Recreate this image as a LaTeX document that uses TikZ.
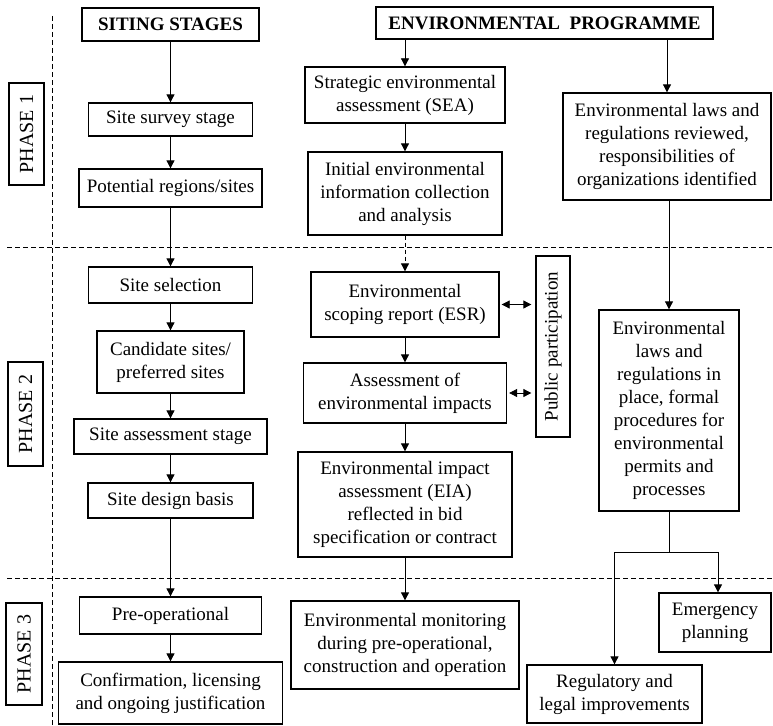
\documentclass[tikz,border=0pt]{standalone}
\usepackage{fontspec}
\setmainfont{Liberation Serif}
\usetikzlibrary{arrows.meta}
\begin{document}
\begin{tikzpicture}[x=1pt,y=-1pt,
  box/.style={draw, line width=1.3pt, align=center, inner sep=0pt,
    font=\fontsize{19}{23}\selectfont},
  head/.style={box, font=\fontsize{19}{23}\selectfont\bfseries},
  phase/.style={box, font=\fontsize{20}{23}\selectfont},
  sz/.style 2 args={minimum width=#1pt, minimum height=#2pt},
  tip/.tip={Triangle[length=8pt,width=8pt]},
  flow/.style={-tip, line width=0.8pt},
  twoway/.style={tip-tip, line width=0.8pt, shorten <=2pt, shorten >=4pt},
  sep/.style={dash pattern=on 5pt off 3pt, line width=0.7pt}
]
\useasboundingbox (0,0) rectangle (773,725);

% phase separators
\draw[sep] (52,16) -- (52,725);
\draw[sep] (7,247) -- (773,247);
\draw[sep] (7,578) -- (773,578);

% headings
\node[head, sz={177}{33}] (siting) at (170.5,24.5) {SITING STAGES};
\node[head, sz={337}{32}] (envprog) at (544.5,23) {ENVIRONMENTAL\ \ PROGRAMME};

% phase labels
\node[phase, sz={35}{102}] (phase1) at (26.5,134) {\rotatebox{90}{PHASE 1}};
\node[phase, sz={35}{104}] (phase2) at (25.5,414) {\rotatebox{90}{PHASE 2}};
\node[phase, sz={36}{102}] (phase3) at (24,654) {\rotatebox{90}{PHASE 3}};

% siting stages column
\node[box, sz={164}{33}] (survey) at (170.5,119.5) {Site survey stage};
\node[box, sz={183}{38}] (potential) at (170.5,188) {Potential regions/sites};
\node[box, sz={164}{36}] (selection) at (170.5,285) {Site selection};
\node[box, sz={147}{62}] (candidate) at (170.5,362) {Candidate sites/\\preferred sites};
\node[box, sz={193}{35}] (assessstage) at (170.5,436.5) {Site assessment stage};
\node[box, sz={165}{35}] (design) at (170.5,500.5) {Site design basis};
\node[box, sz={182}{37}] (preop) at (170.5,615.5) {Pre-operational};
\node[box, sz={224}{62}] (confirm) at (170.5,693) {Confirmation, licensing\\and ongoing justification};

% environmental programme column
\node[box, sz={200}{56}] (sea) at (405,95) {Strategic environmental\\assessment (SEA)};
\node[box, sz={194}{83}] (initial) at (405,193.5) {Initial environmental\\information collection\\and analysis};
\node[box, sz={188}{65}] (esr) at (405,304.5) {Environmental\\scoping report (ESR)};
\node[box, sz={203}{60}] (assessimp) at (405,393) {Assessment of\\environmental impacts};
\node[box, sz={214}{105}] (eia) at (405,504.5) {Environmental impact\\assessment (EIA)\\reflected in bid\\specification or contract};
\node[box, sz={228}{88}] (monitor) at (405,645) {Environmental monitoring\\during pre-operational,\\construction and operation};
\node[box, sz={34}{181}] (public) at (553,346.5) {\rotatebox{90}{Public participation}};

% legal framework column
\node[box, sz={208}{107}] (laws) at (667,146.5) {Environmental laws and\\regulations reviewed,\\responsibilities of\\organizations identified};
\node[box, sz={140}{201}] (lawsplace) at (669,410.5) {Environmental\\laws and\\regulations in\\place, formal\\procedures for\\environmental\\permits and\\processes};
\node[box, sz={112}{59}] (emergency) at (715,622.5) {Emergency\\planning};
\node[box, sz={175}{58}] (regulatory) at (614.5,694) {Regulatory and\\legal improvements};

% siting stage flow
\draw[flow] (siting) -- (survey);
\draw[flow] (survey) -- (potential);
\draw[flow] (potential) -- (selection);
\draw[flow] (selection) -- (candidate);
\draw[flow] (candidate) -- (assessstage);
\draw[flow] (assessstage) -- (design);
\draw[flow] (design) -- (preop);
\draw[flow] (preop) -- (confirm);

% environmental programme flow
\draw[flow] (sea.north |- envprog.south) -- (sea.north);
\draw[flow] (sea) -- (initial);
\draw[flow, dash pattern=on 4pt off 3pt] (initial) -- (esr);
\draw[flow] (esr) -- (assessimp);
\draw[flow] (assessimp) -- (eia);
\draw[flow] (eia) -- (monitor);
\draw[twoway] (esr.east) -- (esr.east -| public.west);
\draw[twoway] (assessimp.east) -- (assessimp.east -| public.west);

% legal framework flow
\draw[flow] (laws.north |- envprog.south) -- (laws.north);
\draw[flow] (laws.south -| lawsplace.north) -- (lawsplace.north);
\coordinate (split) at (669,552);
\draw[line width=0.8pt] (lawsplace.south) -- (split);
\draw[flow] (split) -| (regulatory.north);
\draw[flow] (split) -| ([xshift=3pt]emergency.north);
\end{tikzpicture}
\end{document}
